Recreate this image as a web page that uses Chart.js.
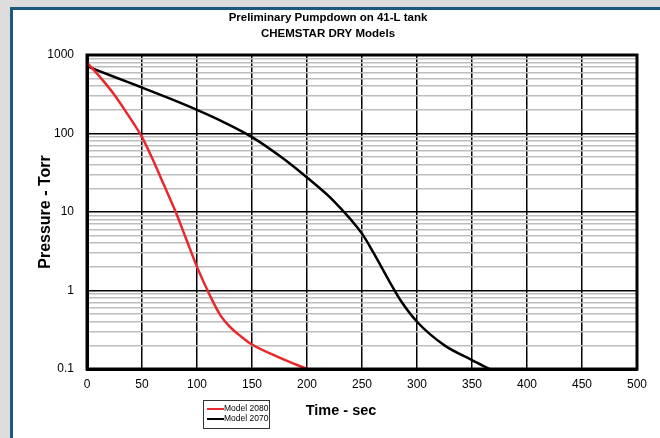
<!DOCTYPE html>
<html>
<head>
<meta charset="utf-8">
<script src="https://cdn.jsdelivr.net/npm/chart.js@4.4.1/dist/chart.umd.min.js"></script>
<style>
html, body { margin: 0; padding: 0; width: 660px; height: 438px; overflow: hidden; background: #dcdcdc; }
#panel { position: absolute; left: 10px; top: 7px; width: 650px; height: 431px; background: #fff;
         border-top: 3px solid #1b5a7e; border-left: 3px solid #1b5a7e; box-sizing: border-box; }
#wrap { position: absolute; left: 0; top: 0; width: 660px; height: 438px; }
</style>
</head>
<body>
<div id="panel"></div>
<div id="wrap"><canvas id="chart" width="660" height="438"></canvas></div>
<script>
// textos
const chartTitle = ['Preliminary Pumpdown on 41-L tank', 'CHEMSTAR DRY Models'];
const xTitle = 'Time - sec';
const yTitle = 'Pressure - Torr';

// series
const seriesNames = ['Model 2080', 'Model 2070'];
const seriesColors = ['#e8282b', '#000000'];

const time2080 = [0, 12, 25, 37, 50, 60, 70, 80, 90, 100, 112, 121, 130, 140, 150, 175, 200];
const pressure2080 = [800, 520, 310, 175, 90, 46, 22, 10.5, 4.6, 2.0, 0.85, 0.49, 0.345, 0.26, 0.205, 0.14, 0.1];

const time2070 = [0, 25, 50, 75, 100, 125, 150, 175, 200, 225, 250, 260, 275, 285, 300, 325, 350, 366];
const pressure2070 = [720, 525, 385, 280, 200, 138, 90, 52, 27.5, 13.5, 5.3, 3.1, 1.3, 0.75, 0.40, 0.2, 0.13, 0.1];

// ejes
const xTicks = [0, 50, 100, 150, 200, 250, 300, 350, 400, 450, 500];
const yDecades = [0.1, 1, 10, 100, 1000];
const yDecadeLabels = ['0.1', '1', '10', '100', '1000'];

const FONT = '"Liberation Sans", Arial, sans-serif';

const toPoints = (xs, ys) => xs.map((x, i) => ({ x: x, y: ys[i] }));

// todas las lineas del eje y: decadas y subdivisiones 2..9
const yGridValues = [];
yDecades.forEach((d, i) => {
    if (i === yDecades.length - 1) { yGridValues.push(d); return; }
    for (let m = 1; m <= 9; m++) yGridValues.push(+(d * m).toPrecision(3));
});
const isDecade = (v) => yDecades.some((d) => Math.abs(d - v) < 1e-9);

const extras = {
    id: 'extras',
    afterDatasetsDraw(chart) {
        const { ctx, chartArea: a } = chart;
        ctx.save();
        ctx.strokeStyle = '#000';
        ctx.lineWidth = 3;
        ctx.strokeRect(a.left, a.top, a.right - a.left, a.bottom - a.top);
        ctx.restore();
    },
    afterDraw(chart) {
        const ctx = chart.ctx;
        ctx.save();
        ctx.fillStyle = '#000';
        ctx.textAlign = 'center';
        ctx.textBaseline = 'middle';
        ctx.font = 'bold 11.5px ' + FONT;
        ctx.fillText(chartTitle[0], 328, 18);
        ctx.fillText(chartTitle[1], 328, 34);

        ctx.font = 'bold 14.5px ' + FONT;
        ctx.fillText(xTitle, 341, 411);

        ctx.save();
        ctx.translate(46, 212);
        ctx.rotate(-Math.PI / 2);
        ctx.font = 'bold 16px ' + FONT;
        ctx.fillText(yTitle, 0, 0);
        ctx.restore();

        // leyenda
        const lx = 203, ly = 400, lw = 66, lh = 28;
        ctx.strokeStyle = '#333';
        ctx.lineWidth = 1;
        ctx.strokeRect(lx + 0.5, ly + 0.5, lw, lh);
        ctx.font = '8.5px ' + FONT;
        ctx.textAlign = 'left';
        chart.data.datasets.forEach((ds, i) => {
            const y = ly + 9 + i * 10;
            ctx.strokeStyle = ds.borderColor;
            ctx.lineWidth = 2;
            ctx.beginPath();
            ctx.moveTo(lx + 4, y);
            ctx.lineTo(lx + 21, y);
            ctx.stroke();
            ctx.fillStyle = '#000';
            ctx.fillText(ds.label, lx + 21, y);
        });
        ctx.restore();
    }
};

new Chart(document.getElementById('chart'), {
    type: 'line',
    data: {
        datasets: [
            { label: seriesNames[0], data: toPoints(time2080, pressure2080), borderColor: seriesColors[0],
              borderWidth: 2.5, pointRadius: 0, cubicInterpolationMode: 'monotone' },
            { label: seriesNames[1], data: toPoints(time2070, pressure2070), borderColor: seriesColors[1],
              borderWidth: 2.5, pointRadius: 0, cubicInterpolationMode: 'monotone' }
        ]
    },
    options: {
        responsive: false,
        animation: false,
        devicePixelRatio: 1,
        layout: { padding: { top: 55, right: 23, left: 0, bottom: 0 } },
        plugins: { legend: { display: false }, tooltip: { enabled: false } },
        scales: {
            x: {
                type: 'linear', min: 0, max: 500,
                afterFit: (s) => { s.height = 69; },
                afterBuildTicks: (s) => { s.ticks = xTicks.map((v) => ({ value: v })); },
                ticks: { color: '#000', font: { family: FONT, size: 12 }, padding: 8, autoSkip: false, maxRotation: 0 },
                grid: { color: '#000', lineWidth: 1.5, drawTicks: false },
                border: { display: true, color: '#000', width: 3 }
            },
            y: {
                type: 'logarithmic', min: 0.1, max: 1000,
                afterFit: (s) => { s.width = 87; },
                afterBuildTicks: (s) => { s.ticks = yGridValues.map((v) => ({ value: v })); },
                ticks: {
                    color: '#000', font: { family: FONT, size: 12 }, padding: 13, autoSkip: false,
                    callback: (v) => { const i = yDecades.findIndex((d) => Math.abs(d - v) < 1e-9); return i >= 0 ? yDecadeLabels[i] : ''; }
                },
                grid: {
                    drawTicks: false,
                    color: (c) => isDecade(c.tick.value) ? '#000' : '#bdbdbd',
                    lineWidth: 1.5
                },
                border: { display: true, color: '#000', width: 3 }
            }
        }
    },
    plugins: [extras]
});
</script>
</body>
</html>
